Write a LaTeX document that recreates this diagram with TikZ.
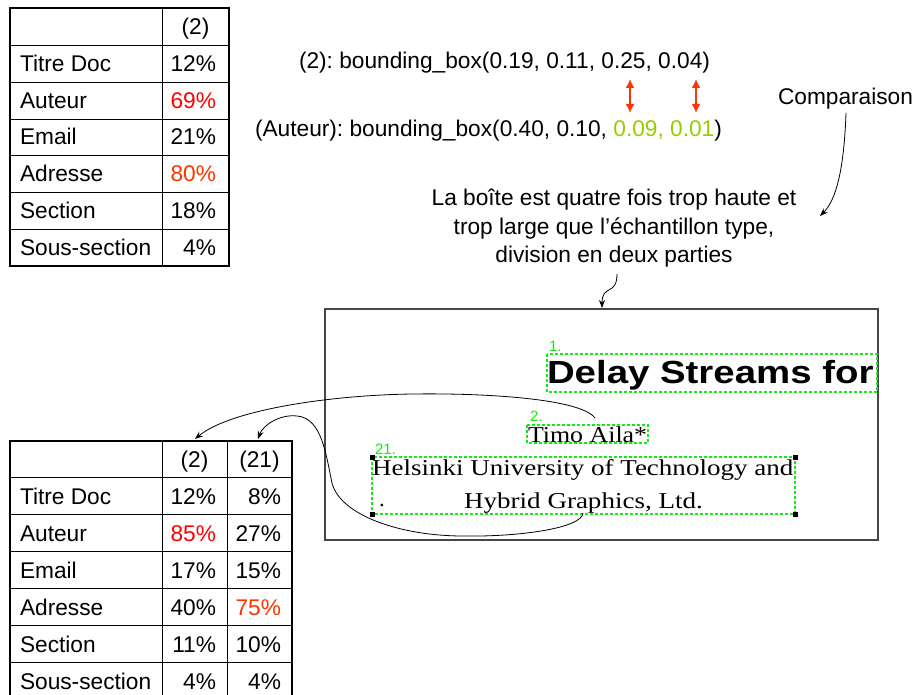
\documentclass[tikz,border=0pt]{standalone}
\usepackage{fontspec}
\setmainfont{Liberation Sans}
\newfontfamily\serifface{Liberation Serif}
\usetikzlibrary{arrows.meta}
\definecolor{hired}{RGB}{255,0,0}
\definecolor{orred}{RGB}{255,51,0}
\definecolor{limegr}{RGB}{153,204,0}
\definecolor{boxgreen}{RGB}{20,235,20}
\definecolor{framegray}{RGB}{70,70,70}
\newcommand\bigtxt{\fontsize{22.7}{28}\selectfont}
\newcommand\sertxt{\serifface\fontsize{22.7}{28}\selectfont}
\frenchspacing
\begin{document}
\begin{tikzpicture}[x=1pt,y=-1pt,
  every node/.style={inner sep=0pt, outer sep=0pt},
  lab/.style={anchor=base west, font=\bigtxt},
  val/.style={anchor=base east, font=\bigtxt},
  hdr/.style={anchor=base, font=\bigtxt},
  txt/.style={anchor=base west, font=\bigtxt},
  inner/.style={line width=0.9pt},
  outer/.style={line width=1.3pt},
  heavy/.style={line width=2.6pt},
  gbox/.style={draw=boxgreen, line width=1.2pt, dash pattern=on 3pt off 2pt},
  glab/.style={anchor=base west, text=boxgreen, font=\fontsize{15}{15}\selectfont},
  conn/.style={line width=0.8pt, -{Stealth[length=8pt,width=6pt]}},
  dbl/.style={orred, line width=2pt, {Latex[length=9pt,width=9pt]}-{Latex[length=9pt,width=9pt]}},
  corner/.style={fill=black, minimum size=5pt, inner sep=0pt, draw=none}
]
\useasboundingbox (0,0) rectangle (915,695);
\fill[white] (0,0) rectangle (915,695);

% ---------------- Table 1 ----------------
\foreach \yy in {45,82,119,155,192,229} \draw[inner] (10,\yy) -- (229,\yy);
\draw[inner] (162,8) -- (162,266);
\draw[outer] (10,8) rectangle (229,266);
\draw[heavy] (229,7) -- (229,266) -- (9,266);
\node[hdr] (t1h) at (195.5,34.5) {(2)};
\node[lab] (t1l1) at (20,71.5) {Titre Doc};
\node[lab] (t1l2) at (20,108.5) {Auteur};
\node[lab] (t1l3) at (20,145) {Email};
\node[lab] (t1l4) at (20,181.5) {Adresse};
\node[lab] (t1l5) at (20,218.5) {Section};
\node[lab] (t1l6) at (20,255.5) {Sous-section};
\node[val] (t1v1) at (216,71.5) {12\%};
\node[val, text=hired] (t1v2) at (216,108.5) {69\%};
\node[val] (t1v3) at (216,145) {21\%};
\node[val, text=orred] (t1v4) at (216,181.5) {80\%};
\node[val] (t1v5) at (216,218.5) {18\%};
\node[val] (t1v6) at (216,255.5) {4\%};

% ---------------- Table 2 ----------------
\foreach \yy in {477,514,551,588,625,662} \draw[inner] (10,\yy) -- (292,\yy);
\draw[inner] (162,441) -- (162,700);
\draw[inner] (227,441) -- (227,700);
\draw[outer] (10,700) -- (10,441) -- (292,441);
\draw[heavy] (292,440) -- (292,700);
\draw[outer] (10,699) -- (292,699);
\node[hdr] (t2h2) at (194.5,467.5) {(2)};
\node[hdr] (t2h21) at (259.5,467.5) {(21)};
\node[lab] (t2l1) at (20,504) {Titre Doc};
\node[lab] (t2l2) at (20,541) {Auteur};
\node[lab] (t2l3) at (20,578) {Email};
\node[lab] (t2l4) at (20,615) {Adresse};
\node[lab] (t2l5) at (20,652) {Section};
\node[lab] (t2l6) at (20,689) {Sous-section};
\node[val] (t2a1) at (216,504) {12\%};
\node[val, text=hired] (t2a2) at (216,541) {85\%};
\node[val] (t2a3) at (216,578) {17\%};
\node[val] (t2a4) at (216,615) {40\%};
\node[val] (t2a5) at (216,652) {11\%};
\node[val] (t2a6) at (216,689) {4\%};
\node[val] (t2b1) at (281,504) {8\%};
\node[val] (t2b2) at (281,541) {27\%};
\node[val] (t2b3) at (281,578) {15\%};
\node[val, text=orred] (t2b4) at (281,615) {75\%};
\node[val] (t2b5) at (281,652) {10\%};
\node[val] (t2b6) at (281,689) {4\%};
\coordinate (in2) at (195,439);
\coordinate (in21) at (258,439);

% ---------------- Top texts ----------------
\node[txt] (bb2) at (299,69) {(2): bounding\_box(0.19, 0.11, 0.25, 0.04)};
\node[txt] (bbA) at (255,137) {(Auteur): bounding\_box(0.40, 0.10, \textcolor{limegr}{0.09, 0.01})};
\coordinate (d1t) at (630,79);
\coordinate (d1b) at (630,113);
\coordinate (d2t) at (696,79);
\coordinate (d2b) at (696,113);
\draw[dbl] (d1t) -- (d1b);
\draw[dbl] (d2t) -- (d2b);

\node[txt] (comp) at (778,105) {Comparaison};
\coordinate (compend) at (820,216);
\draw[conn] (846,113) .. controls (844,170) and (836,200) .. (compend);

\node[hdr] (expl1) at (614,206) {La boîte est quatre fois trop haute et};
\node[hdr] (expl2) at (614,234) {trop large que l’échantillon type,};
\node[hdr] (expl3) at (614,262) {division en deux parties};

% ---------------- Screenshot ----------------
\draw[framegray, line width=1.2pt] (325,309) rectangle (878,540);
\coordinate (shotin) at (602,308);
\draw[conn] (617,274) .. controls (617,296) and (602,284) .. (shotin);

\draw[gbox] (547,354) rectangle (877,392);
\node[glab] (g1) at (549,351) {1.};
\node[anchor=base west, font=\fontsize{32}{32}\selectfont\bfseries] (title) at (547,383) {\scalebox{1.2}[1]{Delay Streams for}};

\draw[gbox] (527,425) rectangle (648,443);
\node[glab] (g2) at (530,421) {2.};
\node[anchor=base west, font=\sertxt] (timo) at (528,442) {\scalebox{1.14}[1]{Timo Aila*}};

\draw[gbox] (372,457) rectangle (795,514);
\node[glab] (g21) at (375,454) {21.};
\node[anchor=base west, font=\sertxt] (hels) at (372,475) {\scalebox{1.19}[1]{Helsinki University of Technology and}};
\node[anchor=base, font=\sertxt] (hyb) at (583.5,508) {\scalebox{1.19}[1]{Hybrid Graphics, Ltd.}};
\node[anchor=base, font=\sertxt] (dot) at (382,506) {.};
\node[corner] (k1) at (372,457) {};
\node[corner] (k2) at (795,457) {};
\node[corner] (k3) at (372,514) {};
\node[corner] (k4) at (795,514) {};

% ---------------- Curved connectors ----------------
\coordinate (s1) at (595,418);
\coordinate (s2) at (583,513);
\draw[conn] (s1) .. controls (580,398) and (480,393) .. (413,394)
                 .. controls (330,395) and (230,410) .. (in2);
\draw[conn] (s2) .. controls (582,528) and (520,537) .. (463,536)
                 .. controls (400,536) and (340,515) .. (332,483)
                 .. controls (326,455) and (322,418) .. (297,416)
                 .. controls (280,414) and (263,425) .. (in21);
\end{tikzpicture}
\end{document}
